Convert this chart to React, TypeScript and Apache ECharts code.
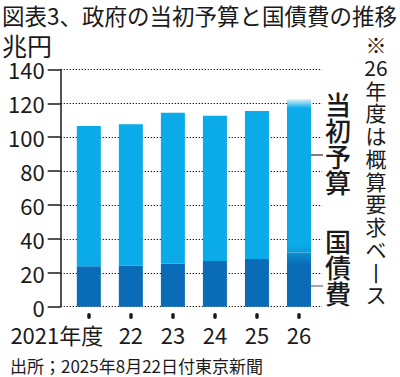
import React, { useEffect, useRef } from "react";
import * as echarts from "echarts";

const years = ["2021年度", "22", "23", "24", "25", "26"];
const totalBudget = [106.6, 107.6, 114.4, 112.6, 115.5, 122.5];
const debtService = [23.8, 24.3, 25.3, 27.0, 28.2, 32.0];
const yTicks = [0, 20, 40, 60, 80, 100, 120, 140];

const noteChars = ["※", "26", "年", "度", "は", "概", "算", "要", "求", "ベ", "丨", "ス"];
const budgetChars = ["当", "初", "予", "算"];
const debtChars = ["国", "債", "費"];

const FONT = "'Noto Sans CJK JP', 'Noto Sans', sans-serif";
const LIGHT = "#0aabe8";
const DARK = "#0a6cb6";
const INK = "#1a1a1a";

function column(chars: string[], x: number, y0: number, pitch: number, size: number, weight: string) {
  return chars.map((c, i) => ({
    type: "text",
    x,
    y: y0 + i * pitch,
    style: {
      text: c,
      fontSize: size,
      lineHeight: pitch - 0.5,
      fontWeight: weight,
      align: "center",
      verticalAlign: "top",
      fontFamily: FONT,
      fill: INK,
    },
  }));
}

export default function App() {
  const ref = useRef<HTMLDivElement>(null);
  useEffect(() => {
    if (!ref.current) return;
    const chart = echarts.init(ref.current, undefined, { renderer: "svg" });
    const last = years.length - 1;
    const upper = totalBudget.map((t, i) => +(t - debtService[i]).toFixed(1));
    const debtData = debtService.map((v, i) =>
      i === last
        ? {
            value: v,
            itemStyle: {
              color: new echarts.graphic.LinearGradient(0, 0, 0, 1, [
                { offset: 0, color: "#0b8fd2" },
                { offset: 0.22, color: DARK },
                { offset: 1, color: DARK },
              ]),
            },
          }
        : v
    );
    const upperData = upper.map((v, i) =>
      i === last
        ? {
            value: v,
            itemStyle: {
              color: new echarts.graphic.LinearGradient(0, 0, 0, 1, [
                { offset: 0, color: "#d9f2fc" },
                { offset: 0.06, color: LIGHT },
                { offset: 0.95, color: LIGHT },
                { offset: 1, color: "#0b9ad9" },
              ]),
            },
          }
        : v
    );
    const yMax = yTicks[yTicks.length - 1];
    chart.setOption({
      animation: false,
      textStyle: { fontFamily: FONT },
      grid: [
        { left: 60.7, top: 69.4, width: 261.3, height: 237.3 },
        { left: 67.8, top: 69.4, width: 252.2, height: 237.3 },
      ],
      xAxis: [
        { type: "value", gridIndex: 0, show: false, min: 0, max: 1 },
        {
          type: "category",
          gridIndex: 1,
          data: years,
          axisLine: { show: false },
          axisTick: { show: false },
          axisLabel: {
            interval: 0,
            margin: 16,
            color: INK,
            fontSize: 22,
            fontFamily: FONT,
            formatter: (v: string, i: number) => (i === 0 ? `{y|${v}}{gap|}` : v),
            rich: {
              y: { fontSize: 22, fontFamily: FONT, color: INK },
              gap: { width: 64 },
            },
          },
        },
        {
          type: "category",
          gridIndex: 1,
          data: years,
          position: "bottom",
          offset: 8,
          axisLine: { show: false },
          axisLabel: { show: false },
          axisTick: {
            show: true,
            alignWithLabel: true,
            interval: 0,
            length: 2.5,
            lineStyle: { color: INK, width: 3.5, cap: "round" },
          },
        },
      ],
      yAxis: [
        {
          type: "value",
          gridIndex: 0,
          min: 0,
          max: yMax,
          interval: 20,
          axisLine: { show: true, lineStyle: { color: INK, width: 1.5 } },
          axisTick: { show: true, length: 13, lineStyle: { color: INK, width: 1.5 } },
          axisLabel: { color: INK, fontSize: 22, margin: 16, fontFamily: FONT },
          splitLine: {
            show: true,
            lineStyle: { color: "#000", width: 1.2, type: [1.2, 1.8] },
          },
        },
        { type: "value", gridIndex: 1, min: 0, max: yMax, show: false },
      ],
      series: [
        {
          name: "国債費",
          type: "bar",
          xAxisIndex: 1,
          yAxisIndex: 1,
          stack: "b",
          barWidth: 24,
          itemStyle: { color: DARK },
          data: debtData,
        },
        {
          name: "当初予算",
          type: "bar",
          xAxisIndex: 1,
          yAxisIndex: 1,
          stack: "b",
          barWidth: 24,
          itemStyle: { color: LIGHT },
          data: upperData,
        },
      ],
      graphic: [
        {
          type: "text",
          left: 2,
          top: 4,
          style: { text: "図表3、政府の当初予算と国債費の推移", fontSize: 22.5, fontFamily: FONT, fill: INK },
        },
        {
          type: "text",
          left: 2,
          top: 32,
          style: { text: "兆円", fontSize: 25, fontFamily: FONT, fill: INK },
        },
        ...column(budgetChars, 338, 91, 26, 26, "500"),
        ...column(debtChars, 338, 228, 26, 26, "500"),
        ...column(noteChars, 376, 33, 22.75, 21, "normal"),
        {
          type: "line",
          shape: { x1: 305, y1: 155, x2: 323, y2: 155 },
          style: { stroke: "#555", lineWidth: 1.5 },
        },
        {
          type: "line",
          shape: { x1: 305, y1: 286, x2: 323, y2: 286 },
          style: { stroke: "#888", lineWidth: 1.5 },
        },
        {
          type: "text",
          left: 10,
          top: 357,
          style: { text: "出所；2025年8月22日付東京新聞", fontSize: 17, fontFamily: FONT, fill: INK },
        },
      ],
    });
    return () => chart.dispose();
  }, []);
  return <div ref={ref} style={{ width: 400, height: 377, position: "absolute", left: 0, top: 0 }} />;
}
